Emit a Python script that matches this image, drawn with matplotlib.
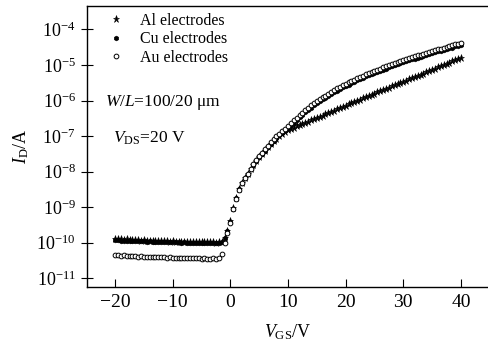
import numpy as np
import matplotlib
matplotlib.use("Agg")
import matplotlib.pyplot as plt
from matplotlib.ticker import FixedLocator, NullLocator

plt.rcParams['font.family'] = ['Liberation Serif', 'DejaVu Serif']
plt.rcParams['mathtext.fontset'] = 'custom'
plt.rcParams['mathtext.rm'] = 'Liberation Serif'
plt.rcParams['mathtext.it'] = 'Liberation Serif:italic'
plt.rcParams['mathtext.bf'] = 'Liberation Serif:bold'

# gate voltage sweep, -20 V to 40 V in 0.5 V steps
vgs = np.arange(-20, 40.25, 0.5)

# log10(I_D / A)
al_log = [
    -9.90, -9.91, -9.90, -9.92, -9.91, -9.92, -9.93, -9.92, -9.93, -9.94,
    -9.93, -9.94, -9.95, -9.94, -9.95, -9.96, -9.95, -9.96, -9.96, -9.97,
    -9.96, -9.97, -9.97, -9.98, -9.97, -9.98, -9.98, -9.97, -9.98, -9.99,
    -9.98, -9.99, -9.99, -9.98, -9.99, -10.00, -9.99,
    -9.97, -9.86, -9.66, -9.40, -9.02, -8.74, -8.49, -8.31, -8.17, -8.06,
    -7.93, -7.81, -7.69, -7.59, -7.50, -7.41, -7.32, -7.23, -7.15, -7.08,
    -7.01, -6.95, -6.89, -6.83,
    -6.80, -6.77, -6.73, -6.70, -6.67, -6.63, -6.60, -6.56, -6.53, -6.50,
    -6.46, -6.43, -6.39, -6.36, -6.32, -6.29, -6.25, -6.22, -6.18, -6.15,
    -6.11, -6.08, -6.04, -6.01, -5.98, -5.94, -5.91, -5.87, -5.84, -5.81,
    -5.77, -5.74, -5.70, -5.67, -5.64, -5.60, -5.57, -5.54, -5.50, -5.47,
    -5.44, -5.40, -5.37, -5.34, -5.30, -5.27, -5.24, -5.20, -5.17, -5.14,
    -5.10, -5.07, -5.04, -5.00, -4.97, -4.94, -4.90, -4.87, -4.84, -4.80,
]

cu_log = [
    -9.93, -9.93, -9.94, -9.94, -9.95, -9.94, -9.95, -9.96, -9.95, -9.96,
    -9.96, -9.97, -9.96, -9.97, -9.97, -9.98, -9.97, -9.98, -9.98, -9.99,
    -9.98, -9.99, -9.99, -10.00, -9.99, -10.00, -10.00, -10.01, -10.00, -10.01,
    -10.01, -10.00, -10.01, -10.02, -10.01, -10.02, -10.01,
    -9.99, -9.88, -9.68, -9.42, -9.04, -8.75, -8.50, -8.32, -8.18, -8.07,
    -7.94, -7.82, -7.70, -7.60, -7.50, -7.41, -7.32, -7.23, -7.14, -7.06,
    -6.98, -6.91, -6.84, -6.77,
    -6.70, -6.62, -6.54, -6.47, -6.40, -6.33, -6.26, -6.20, -6.14, -6.08,
    -6.02, -5.97, -5.92, -5.87, -5.82, -5.77, -5.72, -5.68, -5.63, -5.59,
    -5.55, -5.51, -5.47, -5.43, -5.39, -5.36, -5.32, -5.29, -5.25, -5.22,
    -5.19, -5.16, -5.13, -5.10, -5.07, -5.04, -5.01, -4.98, -4.95, -4.92,
    -4.90, -4.87, -4.84, -4.82, -4.79, -4.77, -4.74, -4.72, -4.69, -4.67,
    -4.64, -4.62, -4.60, -4.57, -4.55, -4.53, -4.51, -4.48, -4.46, -4.44,
]

au_log = [
    -10.35, -10.36, -10.37, -10.36, -10.37, -10.38, -10.37, -10.38, -10.39, -10.38,
    -10.39, -10.40, -10.39, -10.40, -10.41, -10.40, -10.41, -10.41, -10.42, -10.41,
    -10.42, -10.42, -10.43, -10.42, -10.43, -10.43, -10.44, -10.43, -10.44, -10.44,
    -10.45, -10.44, -10.45, -10.45, -10.44, -10.45, -10.42,
    -10.31, -10.02, -9.72, -9.46, -9.06, -8.76, -8.51, -8.32, -8.18, -8.06,
    -7.93, -7.80, -7.68, -7.57, -7.47, -7.37, -7.27, -7.17, -7.09, -7.01,
    -6.93, -6.86, -6.79, -6.72,
    -6.64, -6.56, -6.48, -6.41, -6.34, -6.27, -6.20, -6.14, -6.08, -6.02,
    -5.96, -5.91, -5.86, -5.81, -5.76, -5.71, -5.66, -5.62, -5.57, -5.53,
    -5.49, -5.45, -5.41, -5.37, -5.33, -5.30, -5.26, -5.23, -5.19, -5.16,
    -5.13, -5.10, -5.07, -5.04, -5.01, -4.98, -4.95, -4.92, -4.89, -4.86,
    -4.84, -4.81, -4.78, -4.76, -4.73, -4.71, -4.68, -4.66, -4.63, -4.61,
    -4.58, -4.56, -4.54, -4.51, -4.49, -4.47, -4.45, -4.42, -4.40, -4.38,
]

labels = ['Al electrodes', 'Cu electrodes', 'Au electrodes']
x_ticks = [-20, -10, 0, 10, 20, 30, 40]
y_exps = [-11, -10, -9, -8, -7, -6, -5, -4]

al = 10.0 ** np.array(al_log)
cu = 10.0 ** np.array(cu_log)
au = 10.0 ** np.array(au_log)

fig = plt.figure(figsize=(4.88, 3.51), dpi=100)
ax = fig.add_axes([0.178, 0.182, 0.822, 0.801])

h_cu, = ax.plot(vgs, cu, linestyle='none', marker='h', markersize=3.4,
                color='black', markeredgewidth=0.5, zorder=2)
h_al, = ax.plot(vgs, al, linestyle='none', marker='*', markersize=5.2,
                color='black', markeredgewidth=0.4, zorder=3)
h_au, = ax.plot(vgs, au, linestyle='none', marker='o', markersize=3.4,
                markerfacecolor='white', markeredgecolor='black',
                markeredgewidth=0.7, zorder=4)

ax.set_yscale('log')
ax.set_xlim(-24.9, 44.7)
ax.set_ylim(10 ** -11.25, 10 ** -3.34)

ax.xaxis.set_major_locator(FixedLocator(x_ticks))
ax.set_xticklabels(['\u2212' + str(-t) if t < 0 else str(t) for t in x_ticks])
ax.yaxis.set_major_locator(FixedLocator([10.0 ** e for e in y_exps]))
ax.yaxis.set_minor_locator(NullLocator())
ax.set_yticklabels([r'$10^{%d}$' % e for e in y_exps])

ax.spines['right'].set_visible(False)
for s in ['left', 'top', 'bottom']:
    ax.spines[s].set_linewidth(1.0)

ax.tick_params(axis='x', direction='in', length=6, width=0.8,
               labelsize=14, pad=5, top=False)
ax.tick_params(axis='y', direction='inout', length=8, width=0.8,
               labelsize=13, pad=4, right=False)

ax.set_xlabel(r'$V_{\mathrm{GS}}$/V', fontsize=13, labelpad=8)
ax.set_ylabel(r'$I_{\mathrm{D}}$/A', fontsize=13, labelpad=4)

leg = ax.legend([h_al, h_cu, h_au], labels, loc='upper left',
                bbox_to_anchor=(0.025, 1.01), frameon=False, fontsize=11.5,
                handlelength=1.2, handletextpad=0.9, labelspacing=0.15,
                borderaxespad=0.2, markerscale=1.0)

ax.text(0.045, 0.655, r'$W$/$L$=100/20 $\mathrm{\mu}$m', transform=ax.transAxes,
        fontsize=12.5, ha='left', va='center')
ax.text(0.065, 0.53, r'$V_{\mathrm{DS}}$=20 V', transform=ax.transAxes,
        fontsize=12.5, ha='left', va='center')

fig.savefig('out.png', dpi=100)
